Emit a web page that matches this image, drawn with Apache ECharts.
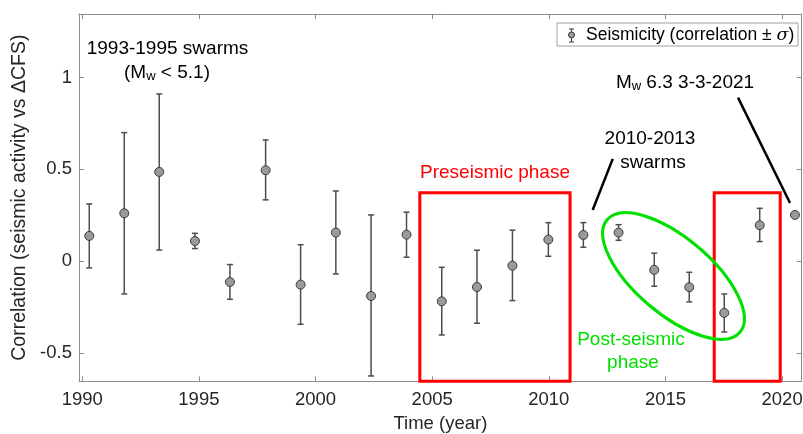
<!DOCTYPE html>
<html>
<head>
<meta charset="utf-8">
<style>
    html, body { margin: 0; padding: 0; background: #fff; }
    #main { width: 803px; height: 434px; }
</style>
<script src="https://cdn.jsdelivr.net/npm/echarts@6/dist/echarts.min.js"></script>
</head>
<body>
<div id="main"></div>
<script type="text/javascript">
    // 数据 (读自图片)
    var years = [1990.30, 1991.80, 1993.30, 1994.83, 1996.33, 1997.86, 1999.36, 2000.87, 2002.38, 2003.90,
        2005.41, 2006.92, 2008.44, 2009.98, 2011.48, 2012.99, 2014.52, 2016.02, 2017.52, 2019.04, 2020.55];
    var corr = [0.138, 0.261, 0.486, 0.110, -0.113, 0.495, -0.127, 0.156, -0.189, 0.145,
        -0.218, -0.140, -0.024, 0.118, 0.143, 0.156, -0.047, -0.141, -0.281, 0.196, 0.252];
    var upper = [0.312, 0.700, 0.910, 0.152, -0.018, 0.660, 0.090, 0.382, 0.252, 0.267,
        -0.033, 0.060, 0.169, 0.210, 0.210, 0.199, 0.044, -0.060, -0.178, 0.288, 0.256];
    var lower = [-0.036, -0.178, 0.061, 0.069, -0.207, 0.334, -0.343, -0.069, -0.624, 0.022,
        -0.401, -0.337, -0.214, 0.027, 0.076, 0.114, -0.136, -0.221, -0.385, 0.107, 0.248];
    var xTicks = [1990, 1995, 2000, 2005, 2010, 2015, 2020];
    var yTicks = [-0.5, 0, 0.5, 1];
    // 红框: 震前阶段
    var phaseBoxes = [[2004.47, 2010.91, 0.372], [2017.09, 2019.92, 0.372]];
    // 注释线
    var pointerLines = [[[2012.74, 0.557], [2011.88, 0.279]], [[2018.11, 0.890], [2020.34, 0.317]]];

    var FONT = '"Liberation Sans", Arial, sans-serif';
    var AXC = '#8c8c8c';
    var xMin = 1989.86, xMax = 2020.84, yMin = -0.653, yMax = 1.345;

    var pts = [], bars = [];
    for (var i = 0; i < years.length; i++) {
        pts.push([years[i], corr[i]]);
        bars.push([years[i], lower[i], upper[i]]);
    }
    var areas = phaseBoxes.map(function (b) {
        return [{xAxis: b[0], yAxis: b[2]}, {xAxis: b[1], yAxis: yMin}];
    });
    var lines = pointerLines.map(function (l) {
        return [{coord: l[0]}, {coord: l[1]}];
    });

    function axisX(pos, showLabel) {
        return {
            type: 'value', position: pos, min: xMin, max: xMax,
            axisLine: {show: true, onZero: false, lineStyle: {color: AXC, width: 1}},
            axisTick: {show: true, inside: true, length: 5, lineStyle: {color: AXC}, customValues: xTicks},
            axisLabel: {show: showLabel, customValues: xTicks, color: '#262626', fontSize: 18.5, fontFamily: FONT, margin: 9,
                formatter: function (v) { return String(v); }},
            splitLine: {show: false}
        };
    }
    function axisY(pos, showLabel) {
        return {
            type: 'value', position: pos, min: yMin, max: yMax,
            axisLine: {show: true, onZero: false, lineStyle: {color: AXC, width: 1}},
            axisTick: {show: true, inside: true, length: 5, lineStyle: {color: AXC}, customValues: yTicks},
            axisLabel: {show: showLabel, customValues: yTicks, color: '#262626', fontSize: 18.5, fontFamily: FONT, margin: 7,
                formatter: function (v) { return String(v); }},
            splitLine: {show: false}
        };
    }

    var xa = axisX('bottom', true);
    xa.name = 'Time (year)';
    xa.nameLocation = 'middle';
    xa.nameGap = 31;
    xa.nameTextStyle = {color: '#262626', fontSize: 18.5, fontFamily: FONT};
    var ya = axisY('left', true);
    ya.name = 'Correlation (seismic activity vs ΔCFS)';
    ya.nameLocation = 'middle';
    ya.nameGap = 42;
    ya.nameTextStyle = {color: '#262626', fontSize: 19.5, fontFamily: FONT};

    function txt(t, x, y, color, size) {
        return {
            type: 'text', x: x, y: y, z: 100,
            style: {
                text: t, fill: color, align: 'center', verticalAlign: 'middle',
                textAlign: 'center', textVerticalAlign: 'middle',
                fontSize: size || 19, fontFamily: FONT,
                rich: {
                    a: {fontSize: size || 19, fontFamily: FONT, fill: color, color: color},
                    s: {fontSize: 13, fontFamily: FONT, fill: color, color: color, padding: [6, 0, 0, 0]}
                }
            }
        };
    }

    var myChart = echarts.init(document.getElementById('main'));
    var option = {
        animation: false,
        grid: {left: 79, right: 1.3, top: 14, bottom: 52.7, outerBoundsMode: 'none', containLabel: false},
        xAxis: [xa, axisX('top', false)],
        yAxis: [ya, axisY('right', false)],
        series: [
            {
                type: 'custom',
                name: 'sigma',
                z: 2,
                data: bars,
                encode: {x: 0, y: [1, 2]},
                renderItem: function (params, api) {
                    var x = api.value(0);
                    var top = api.coord([x, api.value(2)]);
                    var bot = api.coord([x, api.value(1)]);
                    var w = 3, st = {stroke: '#4d4d4d', lineWidth: 1.5};
                    return {
                        type: 'group', children: [
                            {type: 'line', shape: {x1: top[0], y1: top[1], x2: bot[0], y2: bot[1]}, style: st},
                            {type: 'line', shape: {x1: top[0] - w, y1: top[1], x2: top[0] + w, y2: top[1]}, style: st},
                            {type: 'line', shape: {x1: bot[0] - w, y1: bot[1], x2: bot[0] + w, y2: bot[1]}, style: st}
                        ]
                    };
                },
                markArea: {
                    silent: true,
                    itemStyle: {color: 'rgba(0,0,0,0)', borderColor: '#ff0000', borderWidth: 3},
                    data: areas
                },
                markLine: {
                    silent: true,
                    symbol: 'none',
                    label: {show: false},
                    lineStyle: {color: '#000', width: 2.5, type: 'solid'},
                    data: lines
                }
            },
            {
                type: 'scatter',
                name: 'Seismicity',
                z: 3,
                symbol: 'circle',
                symbolSize: 9,
                itemStyle: {color: '#9a9a9a', borderColor: '#3a3a3a', borderWidth: 1, opacity: 1},
                data: pts
            }
        ],
        graphic: [
            txt('1993-1995 swarms', 167.5, 49, '#000'),
            txt('{a|(M}{s|w}{a| < 5.1)}', 167, 73, '#000'),
            txt('{a|M}{s|w}{a| 6.3 3-3-2021}', 685, 83, '#000'),
            txt('2010-2013', 650, 139, '#000'),
            txt('swarms', 653, 163, '#000'),
            txt('Preseismic phase', 495, 173, '#ff0000'),
            txt('Post-seismic', 631, 340, '#00e000'),
            txt('phase', 633, 363, '#00e000'),
            {
                type: 'ellipse', x: 673.5, y: 276, rotation: -0.7025, z: 90,
                shape: {cx: 0, cy: 0, rx: 87, ry: 38},
                style: {fill: 'none', stroke: '#00e000', lineWidth: 3}
            },
            // 图例
            {
                type: 'group', z: 100,
                children: [
                    {type: 'rect', shape: {x: 557, y: 23, width: 241, height: 23},
                        style: {fill: '#fff', stroke: '#a0a0a0', lineWidth: 1}},
                    {type: 'line', shape: {x1: 571.5, y1: 29, x2: 571.5, y2: 42}, style: {stroke: '#4d4d4d', lineWidth: 1.2}},
                    {type: 'line', shape: {x1: 569, y1: 29, x2: 574, y2: 29}, style: {stroke: '#4d4d4d', lineWidth: 1.2}},
                    {type: 'line', shape: {x1: 569, y1: 42, x2: 574, y2: 42}, style: {stroke: '#4d4d4d', lineWidth: 1.2}},
                    {type: 'circle', shape: {cx: 571.5, cy: 35, r: 3}, style: {fill: '#9a9a9a', stroke: '#3a3a3a', lineWidth: 1}},
                    {type: 'text', x: 586, y: 35, style: {text: '{a|Seismicity (correlation ± }{i|σ}{a|)}', fill: '#000',
                        fontSize: 17.5, fontFamily: FONT, align: 'left', verticalAlign: 'middle',
                        textAlign: 'left', textVerticalAlign: 'middle',
                        rich: {
                            a: {fontSize: 17.5, fontFamily: FONT, fill: '#000', color: '#000'},
                            i: {fontSize: 17.5, fontFamily: '"DejaVu Serif", serif', fontStyle: 'italic', fill: '#000', color: '#000'}
                        }}}
                ]
            }
        ]
    };

    myChart.setOption(option);
</script>
</body>
</html>
